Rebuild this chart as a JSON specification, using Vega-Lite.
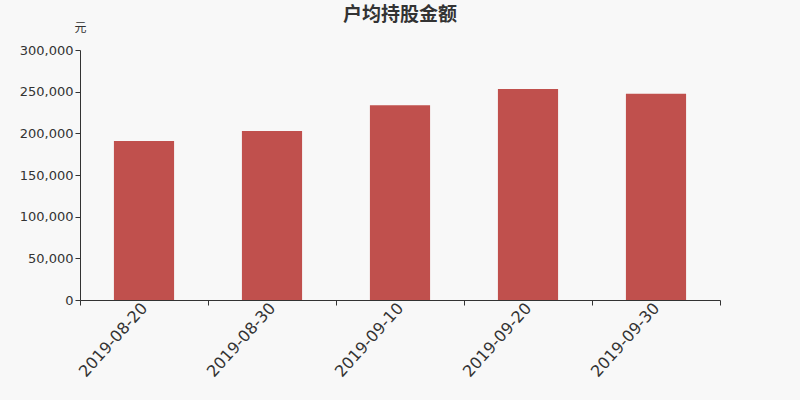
{
  "$schema": "https://vega.github.io/schema/vega-lite/v6.json",
  "width": 640,
  "height": 250,
  "autosize": "none",
  "padding": {"left": 80, "top": 50, "right": 80, "bottom": 100},
  "background": "#f8f8f8",
  "title": {
    "text": "户均持股金额",
    "fontSize": 19,
    "fontWeight": "bold",
    "color": "#333333",
    "font": "Noto Sans CJK SC",
    "offset": 16,
    "dy": 20
  },
  "config": {"view": {"stroke": null}, "font": "DejaVu Sans"},
  "data": {
    "values": [
      {"date": "2019-08-20", "amount": 190800},
      {"date": "2019-08-30", "amount": 202800},
      {"date": "2019-09-10", "amount": 233600},
      {"date": "2019-09-20", "amount": 253200},
      {"date": "2019-09-30", "amount": 247600}
    ]
  },
  "mark": {"type": "bar", "color": "#c0504d", "width": {"band": 0.47}},
  "encoding": {
    "x": {
      "field": "date",
      "type": "ordinal",
      "title": null,
      "scale": {"paddingInner": 0, "paddingOuter": 0},
      "axis": {
        "labelAngle": -48,
        "labelFontSize": 16,
        "labelColor": "#333333",
        "domainColor": "#333333",
        "tickColor": "#333333",
        "tickBand": "extent",
        "tickSize": 5,
        "labelPadding": 0
      }
    },
    "y": {
      "field": "amount",
      "type": "quantitative",
      "scale": {"domain": [0, 300000]},
      "title": "元",
      "axis": {
        "grid": false,
        "tickCount": 6,
        "format": ",d",
        "labelFontSize": 13,
        "labelColor": "#333333",
        "domainColor": "#333333",
        "tickColor": "#333333",
        "tickSize": 5,
        "titleAngle": 0,
        "titleX": 0,
        "titleY": -16,
        "titleAlign": "center",
        "titleFontSize": 12,
        "titleFontWeight": "normal",
        "titleColor": "#333333",
        "titleFont": "Noto Sans CJK SC"
      }
    }
  }
}
